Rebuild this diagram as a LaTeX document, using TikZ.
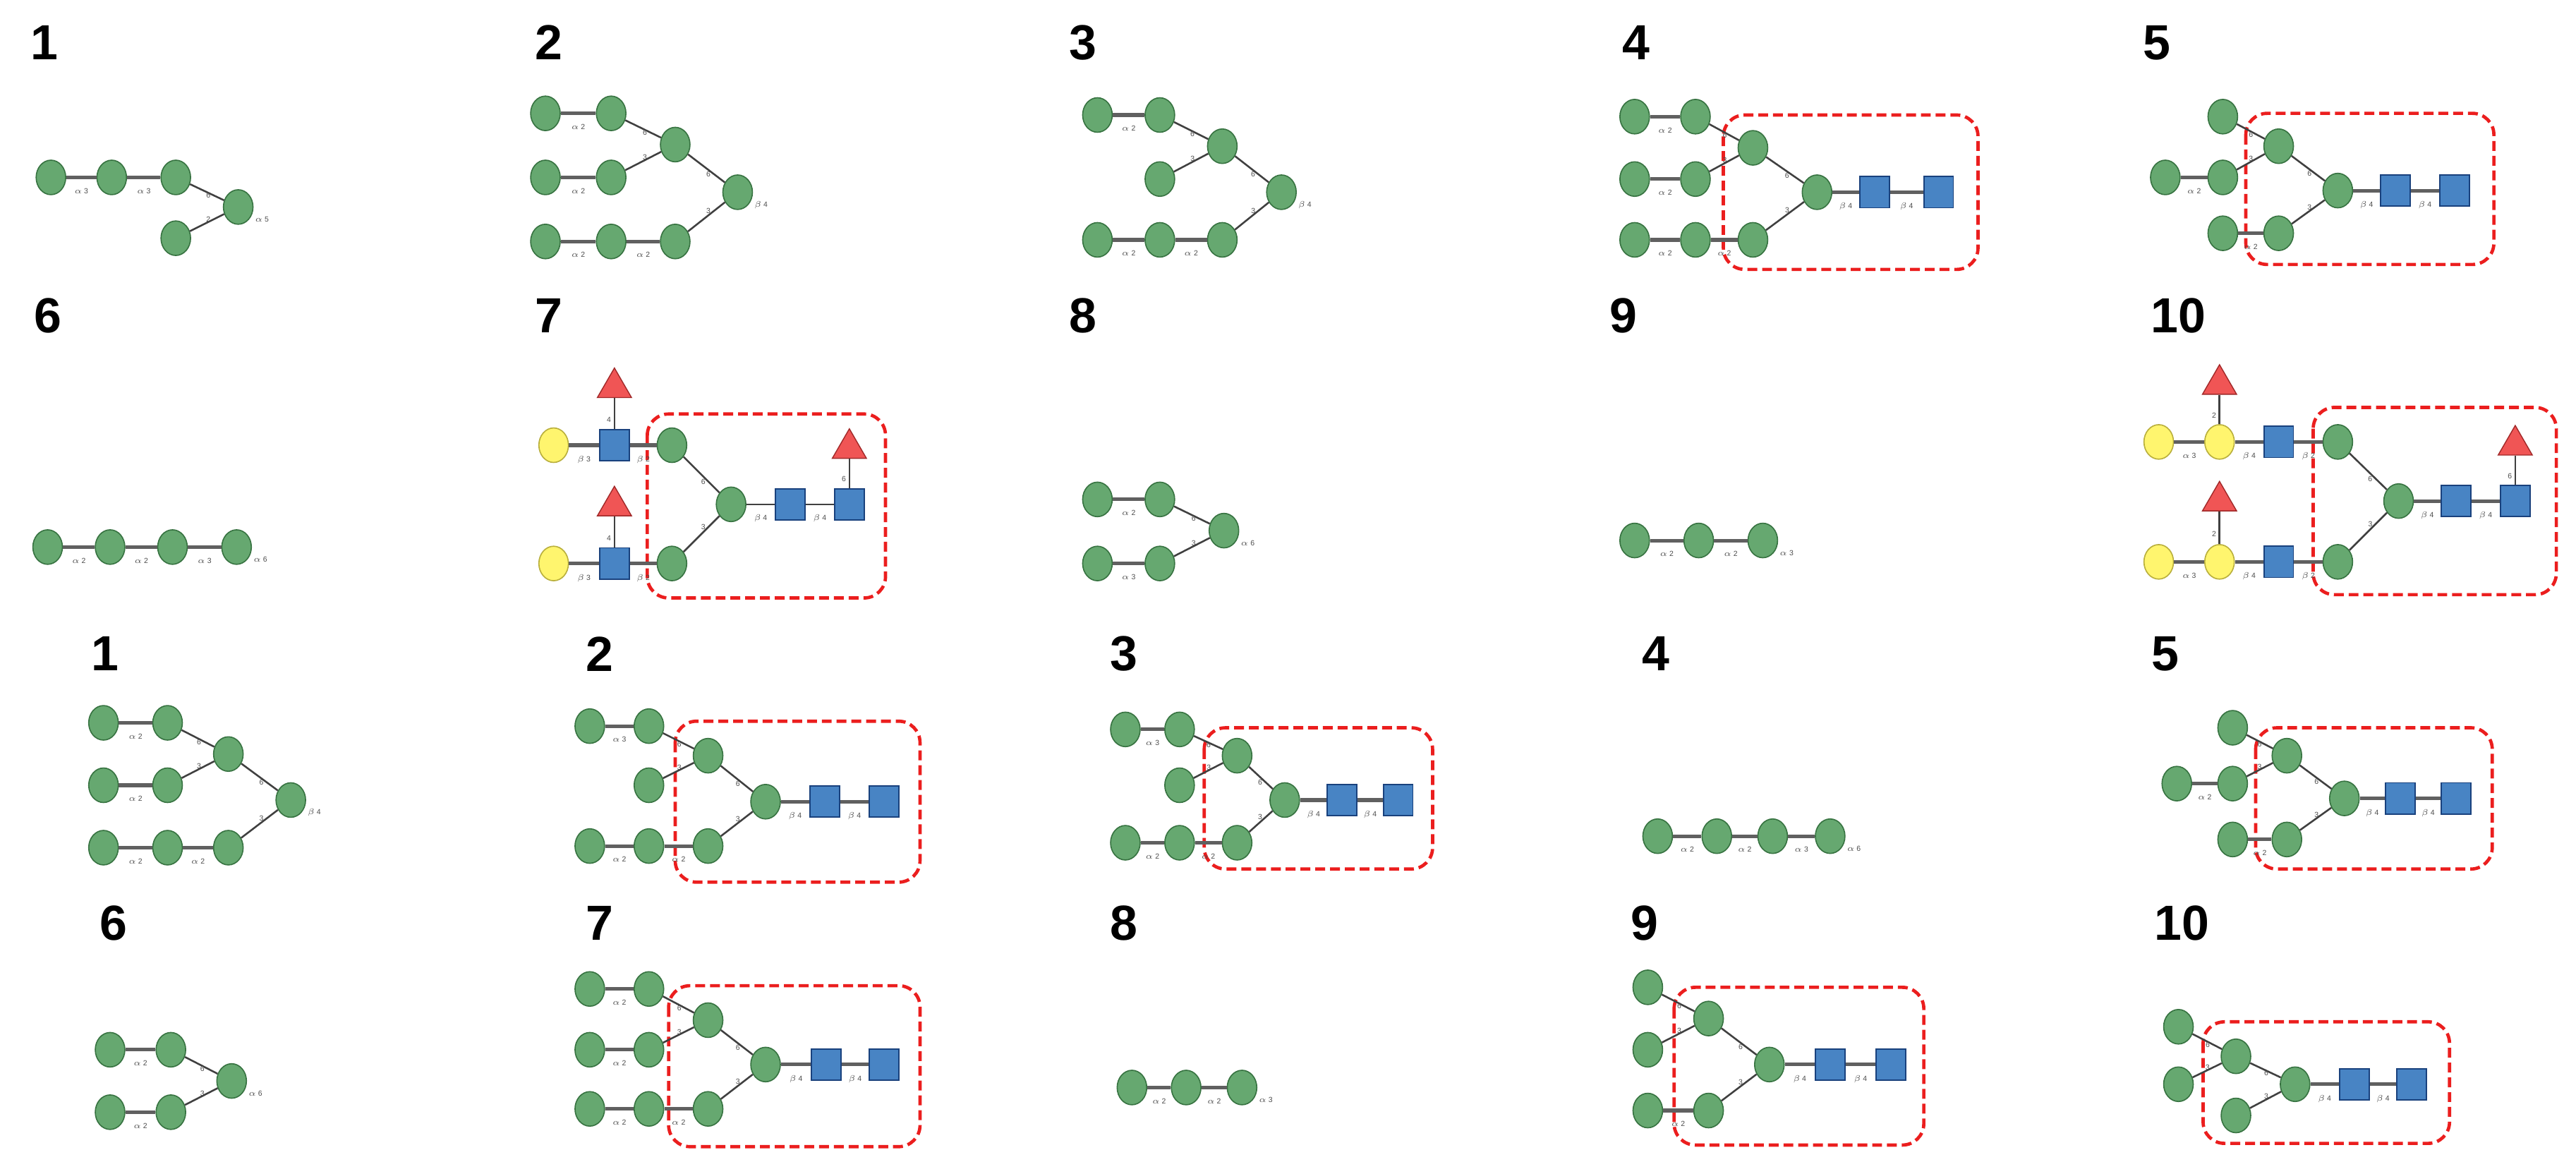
\documentclass[tikz,border=0pt]{standalone}
\usepackage{fontspec}
\setmainfont{Liberation Sans}
\usetikzlibrary{shapes.geometric}
\definecolor{mg}{RGB}{102,168,112}\definecolor{mgd}{RGB}{55,115,65}
\definecolor{gb}{RGB}{72,132,196}\definecolor{gbd}{RGB}{25,65,125}
\definecolor{fr}{RGB}{240,85,85}\definecolor{frd}{RGB}{160,40,40}
\definecolor{gy}{RGB}{255,245,110}\definecolor{gyd}{RGB}{185,175,60}
\definecolor{bx}{RGB}{235,30,30}
\tikzset{
 man/.style={ellipse,minimum width=18pt,minimum height=21pt,inner sep=0pt,fill=mg,draw=mgd,line width=0.7pt},
 gal/.style={ellipse,minimum width=18pt,minimum height=21pt,inner sep=0pt,fill=gy,draw=gyd,line width=0.7pt},
 glc/.style={rectangle,minimum width=18pt,minimum height=19pt,inner sep=0pt,fill=gb,draw=gbd,line width=0.8pt},
 fuc/.style={regular polygon,regular polygon sides=3,minimum size=24pt,inner sep=0pt,fill=fr,draw=frd,line width=0.6pt},
 hl/.style={draw=gray!75!black,line width=2.2pt},
 bl/.style={draw=black!75,line width=1.1pt},
 lbl/.style={font=\fontsize{4.5}{5}\selectfont,text=black!70,inner sep=0.5pt},
 num/.style={font=\fontsize{30}{32}\selectfont\bfseries,inner sep=0pt},
 box/.style={draw=bx,line width=2pt,dash pattern=on 6pt off 3pt,rounded corners=13pt}
}
\newcommand{\hlink}[3]{\draw[hl] (#1) -- node[lbl,below=5pt]{#3} (#2);}
\newcommand{\blink}[3]{\draw[bl] (#1) -- node[lbl,pos=0.7,left=1pt]{#3} (#2);}
\begin{document}
\begin{tikzpicture}[x=1pt,y=-1pt]
\useasboundingbox (0,0) rectangle (1568,707);
% numbers
\node[num] (n1) at (27,26) {1};\node[num] (n2) at (334,26) {2};\node[num] (n3) at (659,26) {3};\node[num] (n4) at (996,26) {4};\node[num] (n5) at (1313,26) {5};
\node[num] (n6) at (29,192) {6};\node[num] (n7) at (334,192) {7};\node[num] (n8) at (659,192) {8};\node[num] (n9) at (988,192) {9};\node[num] (n10) at (1326,192) {10};
\node[num] (m1) at (64,398) {1};\node[num] (m2) at (365,398) {2};\node[num] (m3) at (684,398) {3};\node[num] (m4) at (1008,398) {4};\node[num] (m5) at (1318,398) {5};
\node[num] (m6) at (69,562) {6};\node[num] (m7) at (365,562) {7};\node[num] (m8) at (684,562) {8};\node[num] (m9) at (1001,562) {9};\node[num] (m10) at (1328,562) {10};
% ---------- boxes
\draw[box] (1049,70) rectangle (1204,164);
\draw[box] (1367,69) rectangle (1518,161);
\draw[box] (394,252) rectangle (539,364);
\draw[box] (1408,248) rectangle (1556,362);
\draw[box] (411,439) rectangle (560,537);
\draw[box] (733,443) rectangle (872,529);
\draw[box] (1373,443) rectangle (1517,529);
\draw[box] (407,600) rectangle (560,698);
\draw[box] (1019,601) rectangle (1171,697);
\draw[box] (1341,622) rectangle (1491,696);
% ---------- T1
\node[man] (t1a) at (31,108) {};\node[man] (t1b) at (68,108) {};\node[man] (t1c) at (107,108) {};\node[man] (t1d) at (145,126) {};\node[man] (t1e) at (107,145) {};
\hlink{t1a}{t1b}{$\alpha$ 3}\hlink{t1b}{t1c}{$\alpha$ 3}\blink{t1c}{t1d}{6}\blink{t1e}{t1d}{2}
\node[lbl,right=3pt] (t1x) at (t1d.south east) {$\alpha$ 5};
% ---------- T2
\node[man] (t2a1) at (332,69) {};\node[man] (t2a2) at (372,69) {};\node[man] (t2b) at (411,88) {};
\node[man] (t2m1) at (332,108) {};\node[man] (t2m2) at (372,108) {};\node[man] (t2c) at (449,117) {};
\node[man] (t2d1) at (332,147) {};\node[man] (t2d2) at (372,147) {};\node[man] (t2d3) at (411,147) {};
\hlink{t2a1}{t2a2}{$\alpha$ 2}\blink{t2a2}{t2b}{6}\hlink{t2m1}{t2m2}{$\alpha$ 2}\blink{t2m2}{t2b}{3}\blink{t2b}{t2c}{6}
\hlink{t2d1}{t2d2}{$\alpha$ 2}\hlink{t2d2}{t2d3}{$\alpha$ 2}\blink{t2d3}{t2c}{3}
\node[lbl,right=3pt] (t2x) at (t2c.south east) {$\beta$ 4};
% ---------- T3
\node[man] (t3a1) at (668,70) {};\node[man] (t3a2) at (706,70) {};\node[man] (t3b) at (744,89) {};
\node[man] (t3m) at (706,109) {};\node[man] (t3c) at (780,117) {};
\node[man] (t3d1) at (668,146) {};\node[man] (t3d2) at (706,146) {};\node[man] (t3d3) at (744,146) {};
\hlink{t3a1}{t3a2}{$\alpha$ 2}\blink{t3a2}{t3b}{6}\blink{t3m}{t3b}{3}\blink{t3b}{t3c}{6}
\hlink{t3d1}{t3d2}{$\alpha$ 2}\hlink{t3d2}{t3d3}{$\alpha$ 2}\blink{t3d3}{t3c}{3}
\node[lbl,right=3pt] (t3x) at (t3c.south east) {$\beta$ 4};
% ---------- T4
\node[man] (t4a1) at (995,71) {};\node[man] (t4a2) at (1032,71) {};\node[man] (t4b) at (1067,90) {};
\node[man] (t4m1) at (995,109) {};\node[man] (t4m2) at (1032,109) {};\node[man] (t4c) at (1106,117) {};
\node[glc] (t4s1) at (1141,117) {};\node[glc] (t4s2) at (1180,117) {};
\node[man] (t4d1) at (995,146) {};\node[man] (t4d2) at (1032,146) {};\node[man] (t4d3) at (1067,146) {};
\hlink{t4a1}{t4a2}{$\alpha$ 2}\blink{t4a2}{t4b}{6}\hlink{t4m1}{t4m2}{$\alpha$ 2}\blink{t4m2}{t4b}{3}\blink{t4b}{t4c}{6}
\hlink{t4d1}{t4d2}{$\alpha$ 2}\hlink{t4d2}{t4d3}{$\alpha$ 2}\blink{t4d3}{t4c}{3}
\hlink{t4c}{t4s1}{$\beta$ 4}\hlink{t4s1}{t4s2}{$\beta$ 4}
% ---------- T5
\node[man] (t5a) at (1353,71) {};\node[man] (t5b) at (1387,89) {};
\node[man] (t5m1) at (1318,108) {};\node[man] (t5m2) at (1353,108) {};\node[man] (t5c) at (1423,116) {};
\node[glc] (t5s1) at (1458,116) {};\node[glc] (t5s2) at (1494,116) {};
\node[man] (t5d1) at (1353,142) {};\node[man] (t5d2) at (1387,142) {};
\blink{t5a}{t5b}{6}\hlink{t5m1}{t5m2}{$\alpha$ 2}\blink{t5m2}{t5b}{3}\blink{t5b}{t5c}{6}
\hlink{t5d1}{t5d2}{$\alpha$ 2}\blink{t5d2}{t5c}{3}\hlink{t5c}{t5s1}{$\beta$ 4}\hlink{t5s1}{t5s2}{$\beta$ 4}
% ---------- T6
\node[man] (t6a) at (29,333) {};\node[man] (t6b) at (67,333) {};\node[man] (t6c) at (105,333) {};\node[man] (t6d) at (144,333) {};
\hlink{t6a}{t6b}{$\alpha$ 2}\hlink{t6b}{t6c}{$\alpha$ 2}\hlink{t6c}{t6d}{$\alpha$ 3}
\node[lbl,right=3pt] (t6x) at (t6d.south east) {$\alpha$ 6};
% ---------- T7
\node[gal] (t7y1) at (337,271) {};\node[glc] (t7q1) at (374,271) {};\node[fuc] (t7f1) at (374,236) {};\node[man] (t7g1) at (409,271) {};
\node[man] (t7c) at (445,307) {};\node[glc] (t7s1) at (481,307) {};\node[glc] (t7s2) at (517,307) {};\node[fuc] (t7f3) at (517,273) {};
\node[gal] (t7y2) at (337,343) {};\node[glc] (t7q2) at (374,343) {};\node[fuc] (t7f2) at (374,308) {};\node[man] (t7g2) at (409,343) {};
\hlink{t7y1}{t7q1}{$\beta$ 3}\blink{t7f1}{t7q1}{4}\hlink{t7q1}{t7g1}{$\beta$ 2}\blink{t7g1}{t7c}{6}
\hlink{t7y2}{t7q2}{$\beta$ 3}\blink{t7f2}{t7q2}{4}\hlink{t7q2}{t7g2}{$\beta$ 2}\blink{t7g2}{t7c}{3}
\draw[bl] (t7c) -- node[lbl,below=5pt]{$\beta$ 4} (t7s1);\draw[bl] (t7s1) -- node[lbl,below=5pt]{$\beta$ 4} (t7s2);\blink{t7f3}{t7s2}{6}
% ---------- T8
\node[man] (t8a1) at (668,304) {};\node[man] (t8a2) at (706,304) {};\node[man] (t8b) at (745,323) {};
\node[man] (t8d1) at (668,343) {};\node[man] (t8d2) at (706,343) {};
\hlink{t8a1}{t8a2}{$\alpha$ 2}\blink{t8a2}{t8b}{6}\hlink{t8d1}{t8d2}{$\alpha$ 3}\blink{t8d2}{t8b}{3}
\node[lbl,right=3pt] (t8x) at (t8b.south east) {$\alpha$ 6};
% ---------- T9
\node[man] (t9a) at (995,329) {};\node[man] (t9b) at (1034,329) {};\node[man] (t9c) at (1073,329) {};
\hlink{t9a}{t9b}{$\alpha$ 2}\hlink{t9b}{t9c}{$\alpha$ 2}
\node[lbl,right=3pt] (t9x) at (t9c.south east) {$\alpha$ 3};
% ---------- T10
\node[gal] (u0y1) at (1314,269) {};\node[gal] (u0y2) at (1351,269) {};\node[fuc] (u0f1) at (1351,234) {};\node[glc] (u0q1) at (1387,269) {};\node[man] (u0g1) at (1423,269) {};
\node[man] (u0c) at (1460,305) {};\node[glc] (u0s1) at (1495,305) {};\node[glc] (u0s2) at (1531,305) {};\node[fuc] (u0f3) at (1531,271) {};
\node[gal] (u0y3) at (1314,342) {};\node[gal] (u0y4) at (1351,342) {};\node[fuc] (u0f2) at (1351,305) {};\node[glc] (u0q2) at (1387,342) {};\node[man] (u0g2) at (1423,342) {};
\hlink{u0y1}{u0y2}{$\alpha$ 3}\blink{u0f1}{u0y2}{2}\hlink{u0y2}{u0q1}{$\beta$ 4}\hlink{u0q1}{u0g1}{$\beta$ 2}\blink{u0g1}{u0c}{6}
\hlink{u0y3}{u0y4}{$\alpha$ 3}\blink{u0f2}{u0y4}{2}\hlink{u0y4}{u0q2}{$\beta$ 4}\hlink{u0q2}{u0g2}{$\beta$ 2}\blink{u0g2}{u0c}{3}
\hlink{u0c}{u0s1}{$\beta$ 4}\hlink{u0s1}{u0s2}{$\beta$ 4}\blink{u0f3}{u0s2}{6}
% ---------- U1
\node[man] (u1a1) at (63,440) {};\node[man] (u1a2) at (102,440) {};\node[man] (u1b) at (139,459) {};
\node[man] (u1m1) at (63,478) {};\node[man] (u1m2) at (102,478) {};\node[man] (u1c) at (177,487) {};
\node[man] (u1d1) at (63,516) {};\node[man] (u1d2) at (102,516) {};\node[man] (u1d3) at (139,516) {};
\hlink{u1a1}{u1a2}{$\alpha$ 2}\blink{u1a2}{u1b}{6}\hlink{u1m1}{u1m2}{$\alpha$ 2}\blink{u1m2}{u1b}{3}\blink{u1b}{u1c}{6}
\hlink{u1d1}{u1d2}{$\alpha$ 2}\hlink{u1d2}{u1d3}{$\alpha$ 2}\blink{u1d3}{u1c}{3}
\node[lbl,right=3pt] (u1x) at (u1c.south east) {$\beta$ 4};
% ---------- U2
\node[man] (u2a1) at (359,442) {};\node[man] (u2a2) at (395,442) {};\node[man] (u2b) at (431,460) {};
\node[man] (u2m) at (395,478) {};\node[man] (u2c) at (466,488) {};
\node[glc] (u2s1) at (502,488) {};\node[glc] (u2s2) at (538,488) {};
\node[man] (u2d1) at (359,515) {};\node[man] (u2d2) at (395,515) {};\node[man] (u2d3) at (431,515) {};
\hlink{u2a1}{u2a2}{$\alpha$ 3}\blink{u2a2}{u2b}{6}\blink{u2m}{u2b}{3}\blink{u2b}{u2c}{6}
\hlink{u2d1}{u2d2}{$\alpha$ 2}\hlink{u2d2}{u2d3}{$\alpha$ 2}\blink{u2d3}{u2c}{3}
\hlink{u2c}{u2s1}{$\beta$ 4}\hlink{u2s1}{u2s2}{$\beta$ 4}
% ---------- U3
\node[man] (u3a1) at (685,444) {};\node[man] (u3a2) at (718,444) {};\node[man] (u3b) at (753,460) {};
\node[man] (u3m) at (718,478) {};\node[man] (u3c) at (782,487) {};
\node[glc] (u3s1) at (817,487) {};\node[glc] (u3s2) at (851,487) {};
\node[man] (u3d1) at (685,513) {};\node[man] (u3d2) at (718,513) {};\node[man] (u3d3) at (753,513) {};
\hlink{u3a1}{u3a2}{$\alpha$ 3}\blink{u3a2}{u3b}{6}\blink{u3m}{u3b}{3}\blink{u3b}{u3c}{6}
\hlink{u3d1}{u3d2}{$\alpha$ 2}\hlink{u3d2}{u3d3}{$\alpha$ 2}\blink{u3d3}{u3c}{3}
\hlink{u3c}{u3s1}{$\beta$ 4}\hlink{u3s1}{u3s2}{$\beta$ 4}
% ---------- U4
\node[man] (u4a) at (1009,509) {};\node[man] (u4b) at (1045,509) {};\node[man] (u4c) at (1079,509) {};\node[man] (u4d) at (1114,509) {};
\hlink{u4a}{u4b}{$\alpha$ 2}\hlink{u4b}{u4c}{$\alpha$ 2}\hlink{u4c}{u4d}{$\alpha$ 3}
\node[lbl,right=3pt] (u4x) at (u4d.south east) {$\alpha$ 6};
% ---------- U5
\node[man] (u5a) at (1359,443) {};\node[man] (u5b) at (1392,460) {};
\node[man] (u5m1) at (1325,477) {};\node[man] (u5m2) at (1359,477) {};\node[man] (u5c) at (1427,486) {};
\node[glc] (u5s1) at (1461,486) {};\node[glc] (u5s2) at (1495,486) {};
\node[man] (u5d1) at (1359,511) {};\node[man] (u5d2) at (1392,511) {};
\blink{u5a}{u5b}{6}\hlink{u5m1}{u5m2}{$\alpha$ 2}\blink{u5m2}{u5b}{3}\blink{u5b}{u5c}{6}
\hlink{u5d1}{u5d2}{$\alpha$ 2}\blink{u5d2}{u5c}{3}\hlink{u5c}{u5s1}{$\beta$ 4}\hlink{u5s1}{u5s2}{$\beta$ 4}
% ---------- V6
\node[man] (v6a1) at (67,639) {};\node[man] (v6a2) at (104,639) {};\node[man] (v6b) at (141,658) {};
\node[man] (v6d1) at (67,677) {};\node[man] (v6d2) at (104,677) {};
\hlink{v6a1}{v6a2}{$\alpha$ 2}\blink{v6a2}{v6b}{6}\hlink{v6d1}{v6d2}{$\alpha$ 2}\blink{v6d2}{v6b}{3}
\node[lbl,right=3pt] (v6x) at (v6b.south east) {$\alpha$ 6};
% ---------- V7
\node[man] (v7a1) at (359,602) {};\node[man] (v7a2) at (395,602) {};\node[man] (v7b) at (431,621) {};
\node[man] (v7m1) at (359,639) {};\node[man] (v7m2) at (395,639) {};\node[man] (v7c) at (466,648) {};
\node[glc] (v7s1) at (503,648) {};\node[glc] (v7s2) at (538,648) {};
\node[man] (v7d1) at (359,675) {};\node[man] (v7d2) at (395,675) {};\node[man] (v7d3) at (431,675) {};
\hlink{v7a1}{v7a2}{$\alpha$ 2}\blink{v7a2}{v7b}{6}\hlink{v7m1}{v7m2}{$\alpha$ 2}\blink{v7m2}{v7b}{3}\blink{v7b}{v7c}{6}
\hlink{v7d1}{v7d2}{$\alpha$ 2}\hlink{v7d2}{v7d3}{$\alpha$ 2}\blink{v7d3}{v7c}{3}
\hlink{v7c}{v7s1}{$\beta$ 4}\hlink{v7s1}{v7s2}{$\beta$ 4}
% ---------- V8
\node[man] (v8a) at (689,662) {};\node[man] (v8b) at (722,662) {};\node[man] (v8c) at (756,662) {};
\hlink{v8a}{v8b}{$\alpha$ 2}\hlink{v8b}{v8c}{$\alpha$ 2}
\node[lbl,right=3pt] (v8x) at (v8c.south east) {$\alpha$ 3};
% ---------- V9
\node[man] (v9a) at (1003,601) {};\node[man] (v9b) at (1040,620) {};\node[man] (v9m) at (1003,639) {};\node[man] (v9c) at (1077,648) {};
\node[glc] (v9s1) at (1114,648) {};\node[glc] (v9s2) at (1151,648) {};
\node[man] (v9d1) at (1003,676) {};\node[man] (v9d2) at (1040,676) {};
\blink{v9a}{v9b}{6}\blink{v9m}{v9b}{3}\blink{v9b}{v9c}{6}\hlink{v9d1}{v9d2}{$\alpha$ 2}\blink{v9d2}{v9c}{3}
\hlink{v9c}{v9s1}{$\beta$ 4}\hlink{v9s1}{v9s2}{$\beta$ 4}
% ---------- V10
\node[man] (w0a) at (1326,625) {};\node[man] (w0b) at (1361,643) {};\node[man] (w0m) at (1326,660) {};\node[man] (w0c) at (1397,660) {};
\node[glc] (w0s1) at (1433,660) {};\node[glc] (w0s2) at (1468,660) {};\node[man] (w0d) at (1361,679) {};
\blink{w0a}{w0b}{6}\blink{w0m}{w0b}{3}\blink{w0b}{w0c}{6}\blink{w0d}{w0c}{3}
\hlink{w0c}{w0s1}{$\beta$ 4}\hlink{w0s1}{w0s2}{$\beta$ 4}
\end{tikzpicture}
\end{document}
